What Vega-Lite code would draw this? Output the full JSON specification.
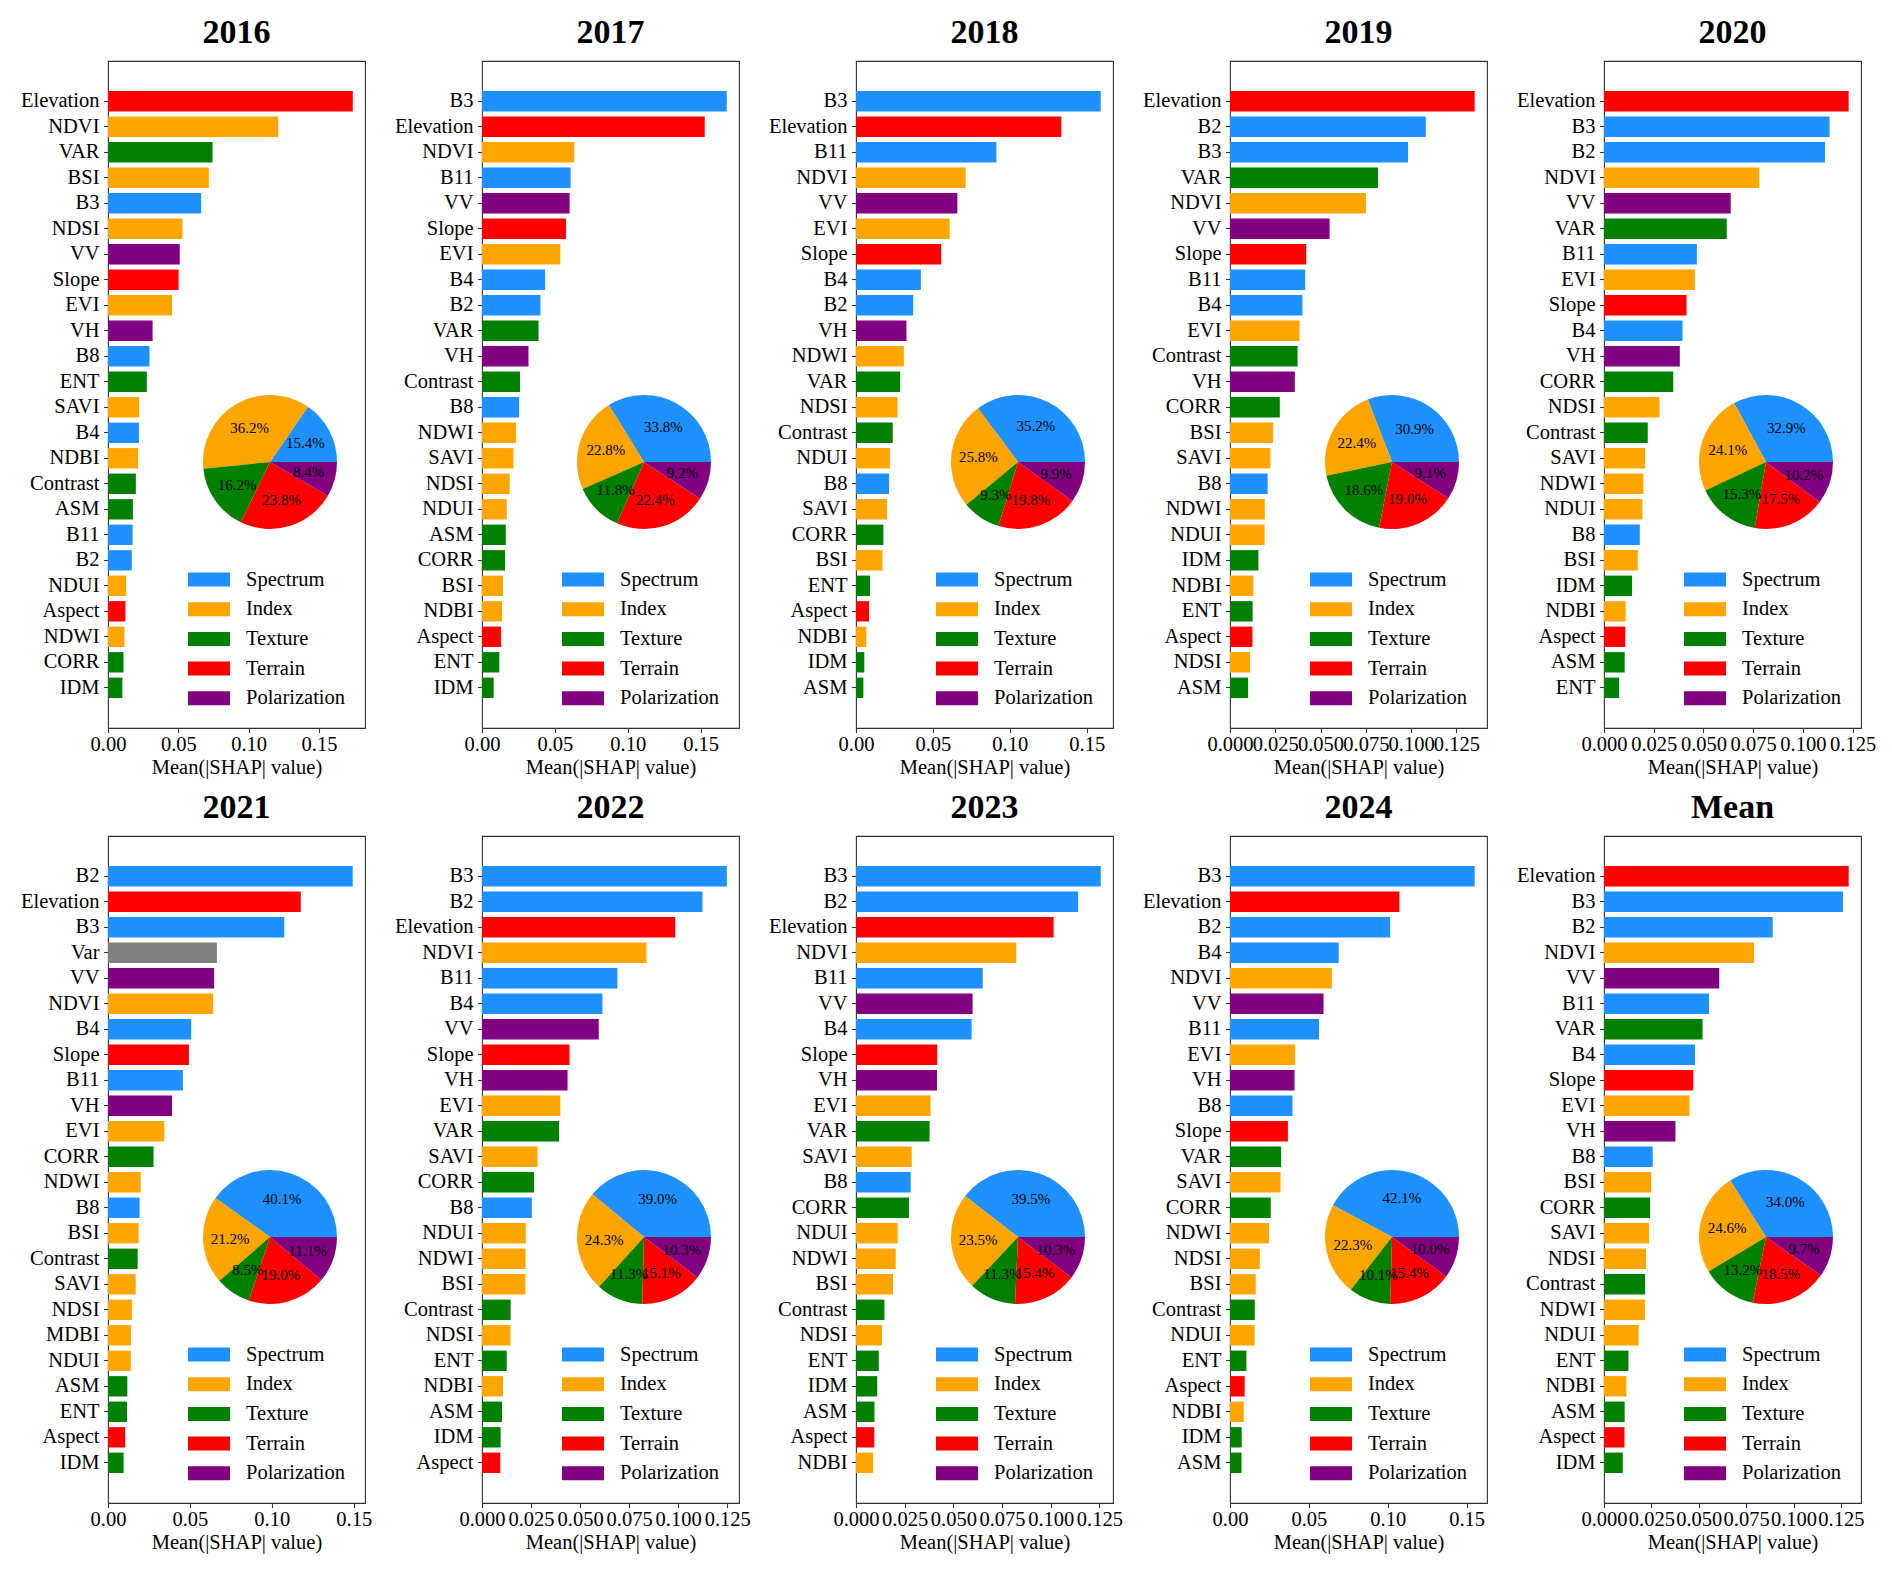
{
"$schema": "https://vega.github.io/schema/vega-lite/v6.json",
"background": "white",
"padding": {"left": 19, "top": 15, "right": 10, "bottom": 5},
"datasets": {
"groups": [
{"f":"B2","g":"Spectrum"},{"f":"B3","g":"Spectrum"},{"f":"B4","g":"Spectrum"},{"f":"B8","g":"Spectrum"},{"f":"B11","g":"Spectrum"},
{"f":"NDVI","g":"Index"},{"f":"BSI","g":"Index"},{"f":"NDSI","g":"Index"},{"f":"EVI","g":"Index"},{"f":"SAVI","g":"Index"},{"f":"NDBI","g":"Index"},{"f":"NDUI","g":"Index"},{"f":"NDWI","g":"Index"},{"f":"MDBI","g":"Index"},
{"f":"VAR","g":"Texture"},{"f":"ENT","g":"Texture"},{"f":"Contrast","g":"Texture"},{"f":"ASM","g":"Texture"},{"f":"CORR","g":"Texture"},{"f":"IDM","g":"Texture"},
{"f":"Elevation","g":"Terrain"},{"f":"Slope","g":"Terrain"},{"f":"Aspect","g":"Terrain"},
{"f":"VV","g":"Polarization"},{"f":"VH","g":"Polarization"},{"f":"Var","g":"Other"}
],
"bars": [
{"p":"2016","f":"Elevation","v":0.1740},{"p":"2016","f":"NDVI","v":0.1210},{"p":"2016","f":"VAR","v":0.0743},{"p":"2016","f":"BSI","v":0.0717},{"p":"2016","f":"B3","v":0.0662},{"p":"2016","f":"NDSI","v":0.0529},{"p":"2016","f":"VV","v":0.0510},{"p":"2016","f":"Slope","v":0.0502},{"p":"2016","f":"EVI","v":0.0455},{"p":"2016","f":"VH","v":0.0317},{"p":"2016","f":"B8","v":0.0295},{"p":"2016","f":"ENT","v":0.0276},{"p":"2016","f":"SAVI","v":0.0222},{"p":"2016","f":"B4","v":0.0220},{"p":"2016","f":"NDBI","v":0.0214},{"p":"2016","f":"Contrast","v":0.0198},{"p":"2016","f":"ASM","v":0.0177},{"p":"2016","f":"B11","v":0.0175},{"p":"2016","f":"B2","v":0.0169},{"p":"2016","f":"NDUI","v":0.0129},{"p":"2016","f":"Aspect","v":0.0124},{"p":"2016","f":"NDWI","v":0.0117},{"p":"2016","f":"CORR","v":0.0110},{"p":"2016","f":"IDM","v":0.0102},
{"p":"2017","f":"B3","v":0.1679},{"p":"2017","f":"Elevation","v":0.1528},{"p":"2017","f":"NDVI","v":0.0633},{"p":"2017","f":"B11","v":0.0608},{"p":"2017","f":"VV","v":0.0601},{"p":"2017","f":"Slope","v":0.0576},{"p":"2017","f":"EVI","v":0.0537},{"p":"2017","f":"B4","v":0.0433},{"p":"2017","f":"B2","v":0.0401},{"p":"2017","f":"VAR","v":0.0388},{"p":"2017","f":"VH","v":0.0319},{"p":"2017","f":"Contrast","v":0.0261},{"p":"2017","f":"B8","v":0.0255},{"p":"2017","f":"NDWI","v":0.0234},{"p":"2017","f":"SAVI","v":0.0216},{"p":"2017","f":"NDSI","v":0.0190},{"p":"2017","f":"NDUI","v":0.0170},{"p":"2017","f":"ASM","v":0.0163},{"p":"2017","f":"CORR","v":0.0158},{"p":"2017","f":"BSI","v":0.0144},{"p":"2017","f":"NDBI","v":0.0138},{"p":"2017","f":"Aspect","v":0.0131},{"p":"2017","f":"ENT","v":0.0119},{"p":"2017","f":"IDM","v":0.0080},
{"p":"2018","f":"B3","v":0.1591},{"p":"2018","f":"Elevation","v":0.1335},{"p":"2018","f":"B11","v":0.0913},{"p":"2018","f":"NDVI","v":0.0713},{"p":"2018","f":"VV","v":0.0659},{"p":"2018","f":"EVI","v":0.0609},{"p":"2018","f":"Slope","v":0.0554},{"p":"2018","f":"B4","v":0.0422},{"p":"2018","f":"B2","v":0.0372},{"p":"2018","f":"VH","v":0.0328},{"p":"2018","f":"NDWI","v":0.0311},{"p":"2018","f":"VAR","v":0.0287},{"p":"2018","f":"NDSI","v":0.0270},{"p":"2018","f":"Contrast","v":0.0239},{"p":"2018","f":"NDUI","v":0.0220},{"p":"2018","f":"B8","v":0.0215},{"p":"2018","f":"SAVI","v":0.0202},{"p":"2018","f":"CORR","v":0.0178},{"p":"2018","f":"BSI","v":0.0172},{"p":"2018","f":"ENT","v":0.0091},{"p":"2018","f":"Aspect","v":0.0085},{"p":"2018","f":"NDBI","v":0.0067},{"p":"2018","f":"IDM","v":0.0054},{"p":"2018","f":"ASM","v":0.0048},
{"p":"2019","f":"Elevation","v":0.1351},{"p":"2019","f":"B2","v":0.1081},{"p":"2019","f":"B3","v":0.0983},{"p":"2019","f":"VAR","v":0.0817},{"p":"2019","f":"NDVI","v":0.0751},{"p":"2019","f":"VV","v":0.0550},{"p":"2019","f":"Slope","v":0.0421},{"p":"2019","f":"B11","v":0.0415},{"p":"2019","f":"B4","v":0.0400},{"p":"2019","f":"EVI","v":0.0384},{"p":"2019","f":"Contrast","v":0.0373},{"p":"2019","f":"VH","v":0.0358},{"p":"2019","f":"CORR","v":0.0275},{"p":"2019","f":"BSI","v":0.0238},{"p":"2019","f":"SAVI","v":0.0223},{"p":"2019","f":"B8","v":0.0208},{"p":"2019","f":"NDWI","v":0.0192},{"p":"2019","f":"NDUI","v":0.0191},{"p":"2019","f":"IDM","v":0.0157},{"p":"2019","f":"NDBI","v":0.0129},{"p":"2019","f":"ENT","v":0.0125},{"p":"2019","f":"Aspect","v":0.0124},{"p":"2019","f":"NDSI","v":0.0111},{"p":"2019","f":"ASM","v":0.0100},
{"p":"2020","f":"Elevation","v":0.1230},{"p":"2020","f":"B3","v":0.1134},{"p":"2020","f":"B2","v":0.1111},{"p":"2020","f":"NDVI","v":0.0781},{"p":"2020","f":"VV","v":0.0637},{"p":"2020","f":"VAR","v":0.0617},{"p":"2020","f":"B11","v":0.0467},{"p":"2020","f":"EVI","v":0.0457},{"p":"2020","f":"Slope","v":0.0415},{"p":"2020","f":"B4","v":0.0395},{"p":"2020","f":"VH","v":0.0381},{"p":"2020","f":"CORR","v":0.0348},{"p":"2020","f":"NDSI","v":0.0279},{"p":"2020","f":"Contrast","v":0.0220},{"p":"2020","f":"SAVI","v":0.0207},{"p":"2020","f":"NDWI","v":0.0198},{"p":"2020","f":"NDUI","v":0.0193},{"p":"2020","f":"B8","v":0.0180},{"p":"2020","f":"BSI","v":0.0170},{"p":"2020","f":"IDM","v":0.0141},{"p":"2020","f":"NDBI","v":0.0109},{"p":"2020","f":"Aspect","v":0.0107},{"p":"2020","f":"ASM","v":0.0104},{"p":"2020","f":"ENT","v":0.0076},
{"p":"2021","f":"B2","v":0.1494},{"p":"2021","f":"Elevation","v":0.1177},{"p":"2021","f":"B3","v":0.1076},{"p":"2021","f":"Var","v":0.0665},{"p":"2021","f":"VV","v":0.0648},{"p":"2021","f":"NDVI","v":0.0642},{"p":"2021","f":"B4","v":0.0508},{"p":"2021","f":"Slope","v":0.0494},{"p":"2021","f":"B11","v":0.0457},{"p":"2021","f":"VH","v":0.0391},{"p":"2021","f":"EVI","v":0.0344},{"p":"2021","f":"CORR","v":0.0278},{"p":"2021","f":"NDWI","v":0.0200},{"p":"2021","f":"B8","v":0.0193},{"p":"2021","f":"BSI","v":0.0187},{"p":"2021","f":"Contrast","v":0.0181},{"p":"2021","f":"SAVI","v":0.0169},{"p":"2021","f":"NDSI","v":0.0146},{"p":"2021","f":"MDBI","v":0.0140},{"p":"2021","f":"NDUI","v":0.0139},{"p":"2021","f":"ASM","v":0.0118},{"p":"2021","f":"ENT","v":0.0116},{"p":"2021","f":"Aspect","v":0.0105},{"p":"2021","f":"IDM","v":0.0095},
{"p":"2022","f":"B3","v":0.1248},{"p":"2022","f":"B2","v":0.1124},{"p":"2022","f":"Elevation","v":0.0985},{"p":"2022","f":"NDVI","v":0.0838},{"p":"2022","f":"B11","v":0.0690},{"p":"2022","f":"B4","v":0.0614},{"p":"2022","f":"VV","v":0.0595},{"p":"2022","f":"Slope","v":0.0446},{"p":"2022","f":"VH","v":0.0436},{"p":"2022","f":"EVI","v":0.0399},{"p":"2022","f":"VAR","v":0.0393},{"p":"2022","f":"SAVI","v":0.0283},{"p":"2022","f":"CORR","v":0.0265},{"p":"2022","f":"B8","v":0.0254},{"p":"2022","f":"NDUI","v":0.0223},{"p":"2022","f":"NDWI","v":0.0222},{"p":"2022","f":"BSI","v":0.0221},{"p":"2022","f":"Contrast","v":0.0146},{"p":"2022","f":"NDSI","v":0.0145},{"p":"2022","f":"ENT","v":0.0126},{"p":"2022","f":"NDBI","v":0.0107},{"p":"2022","f":"ASM","v":0.0102},{"p":"2022","f":"IDM","v":0.0095},{"p":"2022","f":"Aspect","v":0.0093},
{"p":"2023","f":"B3","v":0.1257},{"p":"2023","f":"B2","v":0.1141},{"p":"2023","f":"Elevation","v":0.1015},{"p":"2023","f":"NDVI","v":0.0823},{"p":"2023","f":"B11","v":0.0651},{"p":"2023","f":"VV","v":0.0599},{"p":"2023","f":"B4","v":0.0594},{"p":"2023","f":"Slope","v":0.0417},{"p":"2023","f":"VH","v":0.0416},{"p":"2023","f":"EVI","v":0.0383},{"p":"2023","f":"VAR","v":0.0378},{"p":"2023","f":"SAVI","v":0.0286},{"p":"2023","f":"B8","v":0.0281},{"p":"2023","f":"CORR","v":0.0272},{"p":"2023","f":"NDUI","v":0.0214},{"p":"2023","f":"NDWI","v":0.0204},{"p":"2023","f":"BSI","v":0.0190},{"p":"2023","f":"Contrast","v":0.0146},{"p":"2023","f":"NDSI","v":0.0133},{"p":"2023","f":"ENT","v":0.0117},{"p":"2023","f":"IDM","v":0.0109},{"p":"2023","f":"ASM","v":0.0095},{"p":"2023","f":"Aspect","v":0.0094},{"p":"2023","f":"NDBI","v":0.0088},
{"p":"2024","f":"B3","v":0.1551},{"p":"2024","f":"Elevation","v":0.1074},{"p":"2024","f":"B2","v":0.1015},{"p":"2024","f":"B4","v":0.0689},{"p":"2024","f":"NDVI","v":0.0646},{"p":"2024","f":"VV","v":0.0593},{"p":"2024","f":"B11","v":0.0564},{"p":"2024","f":"EVI","v":0.0413},{"p":"2024","f":"VH","v":0.0409},{"p":"2024","f":"B8","v":0.0396},{"p":"2024","f":"Slope","v":0.0367},{"p":"2024","f":"VAR","v":0.0324},{"p":"2024","f":"SAVI","v":0.0320},{"p":"2024","f":"CORR","v":0.0258},{"p":"2024","f":"NDWI","v":0.0248},{"p":"2024","f":"NDSI","v":0.0189},{"p":"2024","f":"BSI","v":0.0163},{"p":"2024","f":"Contrast","v":0.0157},{"p":"2024","f":"NDUI","v":0.0156},{"p":"2024","f":"ENT","v":0.0104},{"p":"2024","f":"Aspect","v":0.0093},{"p":"2024","f":"NDBI","v":0.0087},{"p":"2024","f":"IDM","v":0.0074},{"p":"2024","f":"ASM","v":0.0073},
{"p":"Mean","f":"Elevation","v":0.1291},{"p":"Mean","f":"B3","v":0.1261},{"p":"Mean","f":"B2","v":0.0890},{"p":"Mean","f":"NDVI","v":0.0792},{"p":"Mean","f":"VV","v":0.0608},{"p":"Mean","f":"B11","v":0.0554},{"p":"Mean","f":"VAR","v":0.0520},{"p":"Mean","f":"B4","v":0.0480},{"p":"Mean","f":"Slope","v":0.0471},{"p":"Mean","f":"EVI","v":0.0451},{"p":"Mean","f":"VH","v":0.0377},{"p":"Mean","f":"B8","v":0.0257},{"p":"Mean","f":"BSI","v":0.0249},{"p":"Mean","f":"CORR","v":0.0243},{"p":"Mean","f":"SAVI","v":0.0238},{"p":"Mean","f":"NDSI","v":0.0222},{"p":"Mean","f":"Contrast","v":0.0217},{"p":"Mean","f":"NDWI","v":0.0216},{"p":"Mean","f":"NDUI","v":0.0183},{"p":"Mean","f":"ENT","v":0.0129},{"p":"Mean","f":"NDBI","v":0.0118},{"p":"Mean","f":"ASM","v":0.0109},{"p":"Mean","f":"Aspect","v":0.0108},{"p":"Mean","f":"IDM","v":0.0099}
],
"pies": [
{"p":"2016","g":"Spectrum","s":0.154,"k":1},{"p":"2016","g":"Index","s":0.362,"k":2},{"p":"2016","g":"Texture","s":0.162,"k":3},{"p":"2016","g":"Terrain","s":0.238,"k":4},{"p":"2016","g":"Polarization","s":0.084,"k":5},
{"p":"2017","g":"Spectrum","s":0.338,"k":1},{"p":"2017","g":"Index","s":0.228,"k":2},{"p":"2017","g":"Texture","s":0.118,"k":3},{"p":"2017","g":"Terrain","s":0.224,"k":4},{"p":"2017","g":"Polarization","s":0.092,"k":5},
{"p":"2018","g":"Spectrum","s":0.352,"k":1},{"p":"2018","g":"Index","s":0.258,"k":2},{"p":"2018","g":"Texture","s":0.093,"k":3},{"p":"2018","g":"Terrain","s":0.198,"k":4},{"p":"2018","g":"Polarization","s":0.099,"k":5},
{"p":"2019","g":"Spectrum","s":0.309,"k":1},{"p":"2019","g":"Index","s":0.224,"k":2},{"p":"2019","g":"Texture","s":0.186,"k":3},{"p":"2019","g":"Terrain","s":0.190,"k":4},{"p":"2019","g":"Polarization","s":0.091,"k":5},
{"p":"2020","g":"Spectrum","s":0.329,"k":1},{"p":"2020","g":"Index","s":0.241,"k":2},{"p":"2020","g":"Texture","s":0.153,"k":3},{"p":"2020","g":"Terrain","s":0.175,"k":4},{"p":"2020","g":"Polarization","s":0.102,"k":5},
{"p":"2021","g":"Spectrum","s":0.401,"k":1},{"p":"2021","g":"Index","s":0.212,"k":2},{"p":"2021","g":"Texture","s":0.085,"k":3},{"p":"2021","g":"Terrain","s":0.190,"k":4},{"p":"2021","g":"Polarization","s":0.111,"k":5},
{"p":"2022","g":"Spectrum","s":0.390,"k":1},{"p":"2022","g":"Index","s":0.243,"k":2},{"p":"2022","g":"Texture","s":0.113,"k":3},{"p":"2022","g":"Terrain","s":0.151,"k":4},{"p":"2022","g":"Polarization","s":0.103,"k":5},
{"p":"2023","g":"Spectrum","s":0.395,"k":1},{"p":"2023","g":"Index","s":0.235,"k":2},{"p":"2023","g":"Texture","s":0.113,"k":3},{"p":"2023","g":"Terrain","s":0.154,"k":4},{"p":"2023","g":"Polarization","s":0.103,"k":5},
{"p":"2024","g":"Spectrum","s":0.421,"k":1},{"p":"2024","g":"Index","s":0.223,"k":2},{"p":"2024","g":"Texture","s":0.101,"k":3},{"p":"2024","g":"Terrain","s":0.154,"k":4},{"p":"2024","g":"Polarization","s":0.100,"k":5},
{"p":"Mean","g":"Spectrum","s":0.340,"k":1},{"p":"Mean","g":"Index","s":0.246,"k":2},{"p":"Mean","g":"Texture","s":0.132,"k":3},{"p":"Mean","g":"Terrain","s":0.185,"k":4},{"p":"Mean","g":"Polarization","s":0.097,"k":5}
]
},
"columns": 5,
"spacing": {"row": 108, "column": 117},
"bounds": "flush",
"resolve": {"scale": {"color": "independent", "theta": "independent"}, "legend": {"color": "independent"}},
"concat": [
{"title":"2016","width":257,"height":667,"layer":[
{"data":{"name":"bars"},"transform":[{"filter":"datum.p==='2016'"},{"lookup":"f","from":{"data":{"name":"groups"},"key":"f","fields":["g"]}}],"mark":"bar","encoding":{"y":{"field":"f","type":"nominal","sort":"-x","scale":{"paddingInner":0.2,"paddingOuter":1,"range":[4.6,662.5]},"axis":{"title":null}},"x":{"field":"v","type":"quantitative","scale":{"domain":[0,0.1827],"nice":false},"axis":{"values":[0,0.05,0.1,0.15],"format":".2f","title":"Mean(|SHAP| value)"}},"color":{"field":"g","type":"nominal","scale":{"domain":["Spectrum","Index","Texture","Terrain","Polarization","Other"],"range":["#1E90FF","#FFA500","#008000","#FF0000","#800080","#808080"]},"legend":{"values":["Spectrum","Index","Texture","Terrain","Polarization"],"orient":"none","legendX":87,"legendY":504.5,"title":null,"symbolType":"M-1.5,-0.5H1.5V0.5H-1.5Z","symbolSize":784,"symbolStrokeWidth":0,"symbolOpacity":1,"labelOffset":23,"rowPadding":4.7,"padding":0,"labelFontSize":20.5,"labelFont":"Liberation Serif","labelColor":"#000"}}}},
{"data":{"name":"pies"},"transform":[{"filter":"datum.p==='2016'"}],"mark":{"type":"arc","outerRadius":67,"x":162,"y":401},"encoding":{"theta":{"field":"s","type":"quantitative","stack":true,"scale":{"range":[1.5707963,-4.712389]}},"order":{"field":"k","type":"quantitative"},"color":{"field":"g","type":"nominal","scale":{"domain":["Spectrum","Index","Texture","Terrain","Polarization","Other"],"range":["#1E90FF","#FFA500","#008000","#FF0000","#800080","#808080"]},"legend":{"values":["Spectrum","Index","Texture","Terrain","Polarization"],"orient":"none","legendX":87,"legendY":504.5,"title":null,"symbolType":"M-1.5,-0.5H1.5V0.5H-1.5Z","symbolSize":784,"symbolStrokeWidth":0,"symbolOpacity":1,"labelOffset":23,"rowPadding":4.7,"padding":0,"labelFontSize":20.5,"labelFont":"Liberation Serif","labelColor":"#000"}}}},
{"data":{"name":"pies"},"transform":[{"filter":"datum.p==='2016'"}],"mark":{"type":"text","radius":40,"x":162,"y":401,"fontSize":15,"font":"Liberation Serif","color":"#000"},"encoding":{"theta":{"field":"s","type":"quantitative","stack":true,"scale":{"range":[1.5707963,-4.712389]}},"order":{"field":"k","type":"quantitative"},"text":{"field":"s","type":"quantitative","format":".1%"}}}
]},
{"title":"2017","width":257,"height":667,"layer":[
{"data":{"name":"bars"},"transform":[{"filter":"datum.p==='2017'"},{"lookup":"f","from":{"data":{"name":"groups"},"key":"f","fields":["g"]}}],"mark":"bar","encoding":{"y":{"field":"f","type":"nominal","sort":"-x","scale":{"paddingInner":0.2,"paddingOuter":1,"range":[4.6,662.5]},"axis":{"title":null}},"x":{"field":"v","type":"quantitative","scale":{"domain":[0,0.1763],"nice":false},"axis":{"values":[0,0.05,0.1,0.15],"format":".2f","title":"Mean(|SHAP| value)"}},"color":{"field":"g","type":"nominal","scale":{"domain":["Spectrum","Index","Texture","Terrain","Polarization","Other"],"range":["#1E90FF","#FFA500","#008000","#FF0000","#800080","#808080"]},"legend":{"values":["Spectrum","Index","Texture","Terrain","Polarization"],"orient":"none","legendX":87,"legendY":504.5,"title":null,"symbolType":"M-1.5,-0.5H1.5V0.5H-1.5Z","symbolSize":784,"symbolStrokeWidth":0,"symbolOpacity":1,"labelOffset":23,"rowPadding":4.7,"padding":0,"labelFontSize":20.5,"labelFont":"Liberation Serif","labelColor":"#000"}}}},
{"data":{"name":"pies"},"transform":[{"filter":"datum.p==='2017'"}],"mark":{"type":"arc","outerRadius":67,"x":162,"y":401},"encoding":{"theta":{"field":"s","type":"quantitative","stack":true,"scale":{"range":[1.5707963,-4.712389]}},"order":{"field":"k","type":"quantitative"},"color":{"field":"g","type":"nominal","scale":{"domain":["Spectrum","Index","Texture","Terrain","Polarization","Other"],"range":["#1E90FF","#FFA500","#008000","#FF0000","#800080","#808080"]},"legend":{"values":["Spectrum","Index","Texture","Terrain","Polarization"],"orient":"none","legendX":87,"legendY":504.5,"title":null,"symbolType":"M-1.5,-0.5H1.5V0.5H-1.5Z","symbolSize":784,"symbolStrokeWidth":0,"symbolOpacity":1,"labelOffset":23,"rowPadding":4.7,"padding":0,"labelFontSize":20.5,"labelFont":"Liberation Serif","labelColor":"#000"}}}},
{"data":{"name":"pies"},"transform":[{"filter":"datum.p==='2017'"}],"mark":{"type":"text","radius":40,"x":162,"y":401,"fontSize":15,"font":"Liberation Serif","color":"#000"},"encoding":{"theta":{"field":"s","type":"quantitative","stack":true,"scale":{"range":[1.5707963,-4.712389]}},"order":{"field":"k","type":"quantitative"},"text":{"field":"s","type":"quantitative","format":".1%"}}}
]},
{"title":"2018","width":257,"height":667,"layer":[
{"data":{"name":"bars"},"transform":[{"filter":"datum.p==='2018'"},{"lookup":"f","from":{"data":{"name":"groups"},"key":"f","fields":["g"]}}],"mark":"bar","encoding":{"y":{"field":"f","type":"nominal","sort":"-x","scale":{"paddingInner":0.2,"paddingOuter":1,"range":[4.6,662.5]},"axis":{"title":null}},"x":{"field":"v","type":"quantitative","scale":{"domain":[0,0.1671],"nice":false},"axis":{"values":[0,0.05,0.1,0.15],"format":".2f","title":"Mean(|SHAP| value)"}},"color":{"field":"g","type":"nominal","scale":{"domain":["Spectrum","Index","Texture","Terrain","Polarization","Other"],"range":["#1E90FF","#FFA500","#008000","#FF0000","#800080","#808080"]},"legend":{"values":["Spectrum","Index","Texture","Terrain","Polarization"],"orient":"none","legendX":87,"legendY":504.5,"title":null,"symbolType":"M-1.5,-0.5H1.5V0.5H-1.5Z","symbolSize":784,"symbolStrokeWidth":0,"symbolOpacity":1,"labelOffset":23,"rowPadding":4.7,"padding":0,"labelFontSize":20.5,"labelFont":"Liberation Serif","labelColor":"#000"}}}},
{"data":{"name":"pies"},"transform":[{"filter":"datum.p==='2018'"}],"mark":{"type":"arc","outerRadius":67,"x":162,"y":401},"encoding":{"theta":{"field":"s","type":"quantitative","stack":true,"scale":{"range":[1.5707963,-4.712389]}},"order":{"field":"k","type":"quantitative"},"color":{"field":"g","type":"nominal","scale":{"domain":["Spectrum","Index","Texture","Terrain","Polarization","Other"],"range":["#1E90FF","#FFA500","#008000","#FF0000","#800080","#808080"]},"legend":{"values":["Spectrum","Index","Texture","Terrain","Polarization"],"orient":"none","legendX":87,"legendY":504.5,"title":null,"symbolType":"M-1.5,-0.5H1.5V0.5H-1.5Z","symbolSize":784,"symbolStrokeWidth":0,"symbolOpacity":1,"labelOffset":23,"rowPadding":4.7,"padding":0,"labelFontSize":20.5,"labelFont":"Liberation Serif","labelColor":"#000"}}}},
{"data":{"name":"pies"},"transform":[{"filter":"datum.p==='2018'"}],"mark":{"type":"text","radius":40,"x":162,"y":401,"fontSize":15,"font":"Liberation Serif","color":"#000"},"encoding":{"theta":{"field":"s","type":"quantitative","stack":true,"scale":{"range":[1.5707963,-4.712389]}},"order":{"field":"k","type":"quantitative"},"text":{"field":"s","type":"quantitative","format":".1%"}}}
]},
{"title":"2019","width":257,"height":667,"layer":[
{"data":{"name":"bars"},"transform":[{"filter":"datum.p==='2019'"},{"lookup":"f","from":{"data":{"name":"groups"},"key":"f","fields":["g"]}}],"mark":"bar","encoding":{"y":{"field":"f","type":"nominal","sort":"-x","scale":{"paddingInner":0.2,"paddingOuter":1,"range":[4.6,662.5]},"axis":{"title":null}},"x":{"field":"v","type":"quantitative","scale":{"domain":[0,0.1419],"nice":false},"axis":{"values":[0,0.025,0.05,0.075,0.1,0.125],"format":".3f","title":"Mean(|SHAP| value)"}},"color":{"field":"g","type":"nominal","scale":{"domain":["Spectrum","Index","Texture","Terrain","Polarization","Other"],"range":["#1E90FF","#FFA500","#008000","#FF0000","#800080","#808080"]},"legend":{"values":["Spectrum","Index","Texture","Terrain","Polarization"],"orient":"none","legendX":87,"legendY":504.5,"title":null,"symbolType":"M-1.5,-0.5H1.5V0.5H-1.5Z","symbolSize":784,"symbolStrokeWidth":0,"symbolOpacity":1,"labelOffset":23,"rowPadding":4.7,"padding":0,"labelFontSize":20.5,"labelFont":"Liberation Serif","labelColor":"#000"}}}},
{"data":{"name":"pies"},"transform":[{"filter":"datum.p==='2019'"}],"mark":{"type":"arc","outerRadius":67,"x":162,"y":401},"encoding":{"theta":{"field":"s","type":"quantitative","stack":true,"scale":{"range":[1.5707963,-4.712389]}},"order":{"field":"k","type":"quantitative"},"color":{"field":"g","type":"nominal","scale":{"domain":["Spectrum","Index","Texture","Terrain","Polarization","Other"],"range":["#1E90FF","#FFA500","#008000","#FF0000","#800080","#808080"]},"legend":{"values":["Spectrum","Index","Texture","Terrain","Polarization"],"orient":"none","legendX":87,"legendY":504.5,"title":null,"symbolType":"M-1.5,-0.5H1.5V0.5H-1.5Z","symbolSize":784,"symbolStrokeWidth":0,"symbolOpacity":1,"labelOffset":23,"rowPadding":4.7,"padding":0,"labelFontSize":20.5,"labelFont":"Liberation Serif","labelColor":"#000"}}}},
{"data":{"name":"pies"},"transform":[{"filter":"datum.p==='2019'"}],"mark":{"type":"text","radius":40,"x":162,"y":401,"fontSize":15,"font":"Liberation Serif","color":"#000"},"encoding":{"theta":{"field":"s","type":"quantitative","stack":true,"scale":{"range":[1.5707963,-4.712389]}},"order":{"field":"k","type":"quantitative"},"text":{"field":"s","type":"quantitative","format":".1%"}}}
]},
{"title":"2020","width":257,"height":667,"layer":[
{"data":{"name":"bars"},"transform":[{"filter":"datum.p==='2020'"},{"lookup":"f","from":{"data":{"name":"groups"},"key":"f","fields":["g"]}}],"mark":"bar","encoding":{"y":{"field":"f","type":"nominal","sort":"-x","scale":{"paddingInner":0.2,"paddingOuter":1,"range":[4.6,662.5]},"axis":{"title":null}},"x":{"field":"v","type":"quantitative","scale":{"domain":[0,0.1292],"nice":false},"axis":{"values":[0,0.025,0.05,0.075,0.1,0.125],"format":".3f","title":"Mean(|SHAP| value)"}},"color":{"field":"g","type":"nominal","scale":{"domain":["Spectrum","Index","Texture","Terrain","Polarization","Other"],"range":["#1E90FF","#FFA500","#008000","#FF0000","#800080","#808080"]},"legend":{"values":["Spectrum","Index","Texture","Terrain","Polarization"],"orient":"none","legendX":87,"legendY":504.5,"title":null,"symbolType":"M-1.5,-0.5H1.5V0.5H-1.5Z","symbolSize":784,"symbolStrokeWidth":0,"symbolOpacity":1,"labelOffset":23,"rowPadding":4.7,"padding":0,"labelFontSize":20.5,"labelFont":"Liberation Serif","labelColor":"#000"}}}},
{"data":{"name":"pies"},"transform":[{"filter":"datum.p==='2020'"}],"mark":{"type":"arc","outerRadius":67,"x":162,"y":401},"encoding":{"theta":{"field":"s","type":"quantitative","stack":true,"scale":{"range":[1.5707963,-4.712389]}},"order":{"field":"k","type":"quantitative"},"color":{"field":"g","type":"nominal","scale":{"domain":["Spectrum","Index","Texture","Terrain","Polarization","Other"],"range":["#1E90FF","#FFA500","#008000","#FF0000","#800080","#808080"]},"legend":{"values":["Spectrum","Index","Texture","Terrain","Polarization"],"orient":"none","legendX":87,"legendY":504.5,"title":null,"symbolType":"M-1.5,-0.5H1.5V0.5H-1.5Z","symbolSize":784,"symbolStrokeWidth":0,"symbolOpacity":1,"labelOffset":23,"rowPadding":4.7,"padding":0,"labelFontSize":20.5,"labelFont":"Liberation Serif","labelColor":"#000"}}}},
{"data":{"name":"pies"},"transform":[{"filter":"datum.p==='2020'"}],"mark":{"type":"text","radius":40,"x":162,"y":401,"fontSize":15,"font":"Liberation Serif","color":"#000"},"encoding":{"theta":{"field":"s","type":"quantitative","stack":true,"scale":{"range":[1.5707963,-4.712389]}},"order":{"field":"k","type":"quantitative"},"text":{"field":"s","type":"quantitative","format":".1%"}}}
]},
{"title":"2021","width":257,"height":667,"layer":[
{"data":{"name":"bars"},"transform":[{"filter":"datum.p==='2021'"},{"lookup":"f","from":{"data":{"name":"groups"},"key":"f","fields":["g"]}}],"mark":"bar","encoding":{"y":{"field":"f","type":"nominal","sort":"-x","scale":{"paddingInner":0.2,"paddingOuter":1,"range":[4.6,662.5]},"axis":{"title":null}},"x":{"field":"v","type":"quantitative","scale":{"domain":[0,0.1569],"nice":false},"axis":{"values":[0,0.05,0.1,0.15],"format":".2f","title":"Mean(|SHAP| value)"}},"color":{"field":"g","type":"nominal","scale":{"domain":["Spectrum","Index","Texture","Terrain","Polarization","Other"],"range":["#1E90FF","#FFA500","#008000","#FF0000","#800080","#808080"]},"legend":{"values":["Spectrum","Index","Texture","Terrain","Polarization"],"orient":"none","legendX":87,"legendY":504.5,"title":null,"symbolType":"M-1.5,-0.5H1.5V0.5H-1.5Z","symbolSize":784,"symbolStrokeWidth":0,"symbolOpacity":1,"labelOffset":23,"rowPadding":4.7,"padding":0,"labelFontSize":20.5,"labelFont":"Liberation Serif","labelColor":"#000"}}}},
{"data":{"name":"pies"},"transform":[{"filter":"datum.p==='2021'"}],"mark":{"type":"arc","outerRadius":67,"x":162,"y":401},"encoding":{"theta":{"field":"s","type":"quantitative","stack":true,"scale":{"range":[1.5707963,-4.712389]}},"order":{"field":"k","type":"quantitative"},"color":{"field":"g","type":"nominal","scale":{"domain":["Spectrum","Index","Texture","Terrain","Polarization","Other"],"range":["#1E90FF","#FFA500","#008000","#FF0000","#800080","#808080"]},"legend":{"values":["Spectrum","Index","Texture","Terrain","Polarization"],"orient":"none","legendX":87,"legendY":504.5,"title":null,"symbolType":"M-1.5,-0.5H1.5V0.5H-1.5Z","symbolSize":784,"symbolStrokeWidth":0,"symbolOpacity":1,"labelOffset":23,"rowPadding":4.7,"padding":0,"labelFontSize":20.5,"labelFont":"Liberation Serif","labelColor":"#000"}}}},
{"data":{"name":"pies"},"transform":[{"filter":"datum.p==='2021'"}],"mark":{"type":"text","radius":40,"x":162,"y":401,"fontSize":15,"font":"Liberation Serif","color":"#000"},"encoding":{"theta":{"field":"s","type":"quantitative","stack":true,"scale":{"range":[1.5707963,-4.712389]}},"order":{"field":"k","type":"quantitative"},"text":{"field":"s","type":"quantitative","format":".1%"}}}
]},
{"title":"2022","width":257,"height":667,"layer":[
{"data":{"name":"bars"},"transform":[{"filter":"datum.p==='2022'"},{"lookup":"f","from":{"data":{"name":"groups"},"key":"f","fields":["g"]}}],"mark":"bar","encoding":{"y":{"field":"f","type":"nominal","sort":"-x","scale":{"paddingInner":0.2,"paddingOuter":1,"range":[4.6,662.5]},"axis":{"title":null}},"x":{"field":"v","type":"quantitative","scale":{"domain":[0,0.1310],"nice":false},"axis":{"values":[0,0.025,0.05,0.075,0.1,0.125],"format":".3f","title":"Mean(|SHAP| value)"}},"color":{"field":"g","type":"nominal","scale":{"domain":["Spectrum","Index","Texture","Terrain","Polarization","Other"],"range":["#1E90FF","#FFA500","#008000","#FF0000","#800080","#808080"]},"legend":{"values":["Spectrum","Index","Texture","Terrain","Polarization"],"orient":"none","legendX":87,"legendY":504.5,"title":null,"symbolType":"M-1.5,-0.5H1.5V0.5H-1.5Z","symbolSize":784,"symbolStrokeWidth":0,"symbolOpacity":1,"labelOffset":23,"rowPadding":4.7,"padding":0,"labelFontSize":20.5,"labelFont":"Liberation Serif","labelColor":"#000"}}}},
{"data":{"name":"pies"},"transform":[{"filter":"datum.p==='2022'"}],"mark":{"type":"arc","outerRadius":67,"x":162,"y":401},"encoding":{"theta":{"field":"s","type":"quantitative","stack":true,"scale":{"range":[1.5707963,-4.712389]}},"order":{"field":"k","type":"quantitative"},"color":{"field":"g","type":"nominal","scale":{"domain":["Spectrum","Index","Texture","Terrain","Polarization","Other"],"range":["#1E90FF","#FFA500","#008000","#FF0000","#800080","#808080"]},"legend":{"values":["Spectrum","Index","Texture","Terrain","Polarization"],"orient":"none","legendX":87,"legendY":504.5,"title":null,"symbolType":"M-1.5,-0.5H1.5V0.5H-1.5Z","symbolSize":784,"symbolStrokeWidth":0,"symbolOpacity":1,"labelOffset":23,"rowPadding":4.7,"padding":0,"labelFontSize":20.5,"labelFont":"Liberation Serif","labelColor":"#000"}}}},
{"data":{"name":"pies"},"transform":[{"filter":"datum.p==='2022'"}],"mark":{"type":"text","radius":40,"x":162,"y":401,"fontSize":15,"font":"Liberation Serif","color":"#000"},"encoding":{"theta":{"field":"s","type":"quantitative","stack":true,"scale":{"range":[1.5707963,-4.712389]}},"order":{"field":"k","type":"quantitative"},"text":{"field":"s","type":"quantitative","format":".1%"}}}
]},
{"title":"2023","width":257,"height":667,"layer":[
{"data":{"name":"bars"},"transform":[{"filter":"datum.p==='2023'"},{"lookup":"f","from":{"data":{"name":"groups"},"key":"f","fields":["g"]}}],"mark":"bar","encoding":{"y":{"field":"f","type":"nominal","sort":"-x","scale":{"paddingInner":0.2,"paddingOuter":1,"range":[4.6,662.5]},"axis":{"title":null}},"x":{"field":"v","type":"quantitative","scale":{"domain":[0,0.1320],"nice":false},"axis":{"values":[0,0.025,0.05,0.075,0.1,0.125],"format":".3f","title":"Mean(|SHAP| value)"}},"color":{"field":"g","type":"nominal","scale":{"domain":["Spectrum","Index","Texture","Terrain","Polarization","Other"],"range":["#1E90FF","#FFA500","#008000","#FF0000","#800080","#808080"]},"legend":{"values":["Spectrum","Index","Texture","Terrain","Polarization"],"orient":"none","legendX":87,"legendY":504.5,"title":null,"symbolType":"M-1.5,-0.5H1.5V0.5H-1.5Z","symbolSize":784,"symbolStrokeWidth":0,"symbolOpacity":1,"labelOffset":23,"rowPadding":4.7,"padding":0,"labelFontSize":20.5,"labelFont":"Liberation Serif","labelColor":"#000"}}}},
{"data":{"name":"pies"},"transform":[{"filter":"datum.p==='2023'"}],"mark":{"type":"arc","outerRadius":67,"x":162,"y":401},"encoding":{"theta":{"field":"s","type":"quantitative","stack":true,"scale":{"range":[1.5707963,-4.712389]}},"order":{"field":"k","type":"quantitative"},"color":{"field":"g","type":"nominal","scale":{"domain":["Spectrum","Index","Texture","Terrain","Polarization","Other"],"range":["#1E90FF","#FFA500","#008000","#FF0000","#800080","#808080"]},"legend":{"values":["Spectrum","Index","Texture","Terrain","Polarization"],"orient":"none","legendX":87,"legendY":504.5,"title":null,"symbolType":"M-1.5,-0.5H1.5V0.5H-1.5Z","symbolSize":784,"symbolStrokeWidth":0,"symbolOpacity":1,"labelOffset":23,"rowPadding":4.7,"padding":0,"labelFontSize":20.5,"labelFont":"Liberation Serif","labelColor":"#000"}}}},
{"data":{"name":"pies"},"transform":[{"filter":"datum.p==='2023'"}],"mark":{"type":"text","radius":40,"x":162,"y":401,"fontSize":15,"font":"Liberation Serif","color":"#000"},"encoding":{"theta":{"field":"s","type":"quantitative","stack":true,"scale":{"range":[1.5707963,-4.712389]}},"order":{"field":"k","type":"quantitative"},"text":{"field":"s","type":"quantitative","format":".1%"}}}
]},
{"title":"2024","width":257,"height":667,"layer":[
{"data":{"name":"bars"},"transform":[{"filter":"datum.p==='2024'"},{"lookup":"f","from":{"data":{"name":"groups"},"key":"f","fields":["g"]}}],"mark":"bar","encoding":{"y":{"field":"f","type":"nominal","sort":"-x","scale":{"paddingInner":0.2,"paddingOuter":1,"range":[4.6,662.5]},"axis":{"title":null}},"x":{"field":"v","type":"quantitative","scale":{"domain":[0,0.1629],"nice":false},"axis":{"values":[0,0.05,0.1,0.15],"format":".2f","title":"Mean(|SHAP| value)"}},"color":{"field":"g","type":"nominal","scale":{"domain":["Spectrum","Index","Texture","Terrain","Polarization","Other"],"range":["#1E90FF","#FFA500","#008000","#FF0000","#800080","#808080"]},"legend":{"values":["Spectrum","Index","Texture","Terrain","Polarization"],"orient":"none","legendX":87,"legendY":504.5,"title":null,"symbolType":"M-1.5,-0.5H1.5V0.5H-1.5Z","symbolSize":784,"symbolStrokeWidth":0,"symbolOpacity":1,"labelOffset":23,"rowPadding":4.7,"padding":0,"labelFontSize":20.5,"labelFont":"Liberation Serif","labelColor":"#000"}}}},
{"data":{"name":"pies"},"transform":[{"filter":"datum.p==='2024'"}],"mark":{"type":"arc","outerRadius":67,"x":162,"y":401},"encoding":{"theta":{"field":"s","type":"quantitative","stack":true,"scale":{"range":[1.5707963,-4.712389]}},"order":{"field":"k","type":"quantitative"},"color":{"field":"g","type":"nominal","scale":{"domain":["Spectrum","Index","Texture","Terrain","Polarization","Other"],"range":["#1E90FF","#FFA500","#008000","#FF0000","#800080","#808080"]},"legend":{"values":["Spectrum","Index","Texture","Terrain","Polarization"],"orient":"none","legendX":87,"legendY":504.5,"title":null,"symbolType":"M-1.5,-0.5H1.5V0.5H-1.5Z","symbolSize":784,"symbolStrokeWidth":0,"symbolOpacity":1,"labelOffset":23,"rowPadding":4.7,"padding":0,"labelFontSize":20.5,"labelFont":"Liberation Serif","labelColor":"#000"}}}},
{"data":{"name":"pies"},"transform":[{"filter":"datum.p==='2024'"}],"mark":{"type":"text","radius":40,"x":162,"y":401,"fontSize":15,"font":"Liberation Serif","color":"#000"},"encoding":{"theta":{"field":"s","type":"quantitative","stack":true,"scale":{"range":[1.5707963,-4.712389]}},"order":{"field":"k","type":"quantitative"},"text":{"field":"s","type":"quantitative","format":".1%"}}}
]},
{"title":"Mean","width":257,"height":667,"layer":[
{"data":{"name":"bars"},"transform":[{"filter":"datum.p==='Mean'"},{"lookup":"f","from":{"data":{"name":"groups"},"key":"f","fields":["g"]}}],"mark":"bar","encoding":{"y":{"field":"f","type":"nominal","sort":"-x","scale":{"paddingInner":0.2,"paddingOuter":1,"range":[4.6,662.5]},"axis":{"title":null}},"x":{"field":"v","type":"quantitative","scale":{"domain":[0,0.1356],"nice":false},"axis":{"values":[0,0.025,0.05,0.075,0.1,0.125],"format":".3f","title":"Mean(|SHAP| value)"}},"color":{"field":"g","type":"nominal","scale":{"domain":["Spectrum","Index","Texture","Terrain","Polarization","Other"],"range":["#1E90FF","#FFA500","#008000","#FF0000","#800080","#808080"]},"legend":{"values":["Spectrum","Index","Texture","Terrain","Polarization"],"orient":"none","legendX":87,"legendY":504.5,"title":null,"symbolType":"M-1.5,-0.5H1.5V0.5H-1.5Z","symbolSize":784,"symbolStrokeWidth":0,"symbolOpacity":1,"labelOffset":23,"rowPadding":4.7,"padding":0,"labelFontSize":20.5,"labelFont":"Liberation Serif","labelColor":"#000"}}}},
{"data":{"name":"pies"},"transform":[{"filter":"datum.p==='Mean'"}],"mark":{"type":"arc","outerRadius":67,"x":162,"y":401},"encoding":{"theta":{"field":"s","type":"quantitative","stack":true,"scale":{"range":[1.5707963,-4.712389]}},"order":{"field":"k","type":"quantitative"},"color":{"field":"g","type":"nominal","scale":{"domain":["Spectrum","Index","Texture","Terrain","Polarization","Other"],"range":["#1E90FF","#FFA500","#008000","#FF0000","#800080","#808080"]},"legend":{"values":["Spectrum","Index","Texture","Terrain","Polarization"],"orient":"none","legendX":87,"legendY":504.5,"title":null,"symbolType":"M-1.5,-0.5H1.5V0.5H-1.5Z","symbolSize":784,"symbolStrokeWidth":0,"symbolOpacity":1,"labelOffset":23,"rowPadding":4.7,"padding":0,"labelFontSize":20.5,"labelFont":"Liberation Serif","labelColor":"#000"}}}},
{"data":{"name":"pies"},"transform":[{"filter":"datum.p==='Mean'"}],"mark":{"type":"text","radius":40,"x":162,"y":401,"fontSize":15,"font":"Liberation Serif","color":"#000"},"encoding":{"theta":{"field":"s","type":"quantitative","stack":true,"scale":{"range":[1.5707963,-4.712389]}},"order":{"field":"k","type":"quantitative"},"text":{"field":"s","type":"quantitative","format":".1%"}}}
]}
],
"config": {
"font": "Liberation Serif",
"view": {"stroke": "#333333", "strokeWidth": 1.1},
"axis": {"labelFont": "Liberation Serif", "labelFontSize": 20.5, "labelColor": "#000", "tickColor": "#333333", "tickSize": 4.5, "tickWidth": 1.1, "domain": false, "grid": false, "titleFont": "Liberation Serif", "titleFontSize": 20.5, "titleFontWeight": "normal", "titleColor": "#000"},
"axisY": {"labelPadding": 4.5},
"axisX": {"labelFlush": false, "labelOverlap": false, "labelPadding": 2, "titlePadding": 2.6},
"title": {"font": "Liberation Serif", "fontSize": 34, "fontWeight": "bold", "color": "#000", "offset": 11}
}
}
